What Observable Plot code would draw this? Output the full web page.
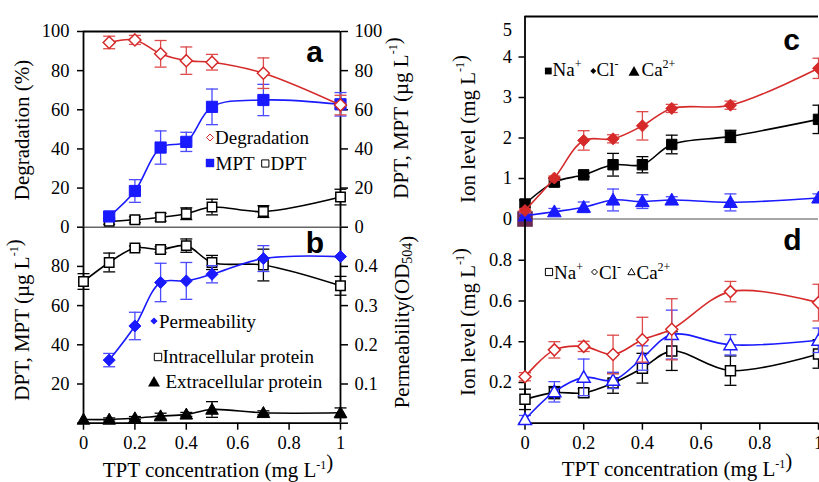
<!DOCTYPE html>
<html><head><meta charset="utf-8">
<script src="https://cdn.jsdelivr.net/npm/d3@7"></script>
<script src="https://cdn.jsdelivr.net/npm/@observablehq/plot@0.6"></script>
<style>
html,body{margin:0;padding:0;background:#fff;overflow:hidden;}
#fig{position:relative;width:819px;height:482px;overflow:hidden;background:#fff;}
#fig svg{position:absolute;left:0;top:0;}
</style></head>
<body><div id="fig"></div>
<script>
// ---------- data ----------
// Panel a
const concA = [0.1, 0.2, 0.3, 0.4, 0.5, 0.7, 1.0];
const degradation = [94.4, 95.7, 88.6, 85.1, 84.3, 78.7, 62.4];
const degradationErr = [3.2, 2.3, 6.8, 7.0, 4.0, 7.8, 5.0];
const mpt = [5.5, 18.5, 40.7, 43.6, 61.5, 65.0, 62.8];
const mptErr = [2.0, 5.8, 8.5, 4.9, 9.1, 8.0, 6.0];
const dpt = [3.0, 3.8, 5.1, 6.9, 10.3, 8.0, 15.4];
const dptErr = [1.5, 1.5, 2.0, 3.0, 4.0, 3.0, 4.0];
// Panel b
const concB = [0, 0.1, 0.2, 0.3, 0.4, 0.5, 0.7, 1.0];
const intracellular = [72.3, 82.0, 89.4, 88.6, 90.6, 82.0, 80.7, 70.1];
const intracellularErr = [4.0, 4.8, 1.0, 1.5, 3.4, 3.6, 8.1, 4.8];
const extracellular = [1.9, 1.9, 2.6, 3.6, 4.5, 7.0, 5.3, 5.3];
const extracellularErr = [0, 0.8, 0.8, 1.5, 1.0, 4.0, 1.0, 2.5];
const permConc = [0.1, 0.2, 0.3, 0.4, 0.5, 0.7, 1.0];
const permeability = [0.161, 0.248, 0.359, 0.363, 0.380, 0.420, 0.425];
const permeabilityErr = [0.017, 0.035, 0.049, 0.047, 0.022, 0.033, 0];
// Panels c and d
const concCD = [0, 0.1, 0.2, 0.3, 0.4, 0.5, 0.7, 1.0];
const naC = [0.37, 0.91, 1.09, 1.34, 1.34, 1.84, 2.04, 2.46];
const naCErr = [0.1, 0.1, 0.05, 0.28, 0.2, 0.23, 0.15, 0.35];
const clC = [0.21, 1.01, 1.94, 1.98, 2.30, 2.73, 2.81, 3.72];
const clCErr = [0.05, 0.05, 0.24, 0.1, 0.35, 0.1, 0.1, 0.25];
const caC = [0.08, 0.18, 0.29, 0.47, 0.43, 0.47, 0.41, 0.52];
const caCErr = [0.05, 0.08, 0.13, 0.27, 0.17, 0.08, 0.21, 0.1];
const originMarkerC = [{x: 0, y: 0}];
const naD = [0.117, 0.150, 0.149, 0.197, 0.270, 0.354, 0.258, 0.340];
const naDErr = [0.05, 0.03, 0.02, 0.05, 0.073, 0.095, 0.072, 0.07];
const clD = [0.228, 0.360, 0.377, 0.337, 0.410, 0.461, 0.646, 0.592];
const clDErr = [0.02, 0.04, 0.025, 0.095, 0.11, 0.15, 0.05, 0.09];
const caD = [0.018, 0.154, 0.225, 0.210, 0.320, 0.435, 0.385, 0.407];
const caDErr = [0.02, 0.05, 0.09, 0.04, 0.06, 0.12, 0.05, 0.06];
// ticks
const xTicks = [0, 0.2, 0.4, 0.6, 0.8, 1];
const aTicks = [0, 20, 40, 60, 80, 100];
const bLeftTicks = [0, 20, 40, 60, 80];
const bRightTicks = [0, 0.1, 0.2, 0.3, 0.4];
const cTicks = [0, 1, 2, 3, 4];
const dTicks = [0, 0.2, 0.4, 0.6, 0.8];

// ---------- styling ----------
const RED = "#d62a2a", RED_ERR = "#dd4b4b", BLUE = "#1a1aff", BLUE_ERR = "#4a4aff", BLACK = "#000";
const W = 819, H = 482;
const rad = s => Math.sqrt(s / Math.PI);
const sq = {draw(c, s) { const r = rad(s); c.rect(-r, -r, 2 * r, 2 * r); }};
const dia = {draw(c, s) { const r = rad(s); c.moveTo(0, -r); c.lineTo(r, 0); c.lineTo(0, r); c.lineTo(-r, 0); c.closePath(); }};
const tri = {draw(c, s) { const r = rad(s); c.moveTo(0, -r); c.lineTo(r, r * 0.75); c.lineTo(-r, r * 0.75); c.closePath(); }};
const cap = {draw(c, s) { const r = rad(s); c.moveTo(-r, 0); c.lineTo(r, 0); }};
const fmt = d => String(+(+d).toFixed(1));

function series(xs, ys, es, o) {
  const k = o.k || 1;
  const data = xs.map((x, i) => ({x, y: ys[i] * k, e: es[i] * k}));
  const ed = data.filter(d => d.e > 0);
  return [
    Plot.ruleX(ed, {x: "x", y1: d => d.y - d.e, y2: d => d.y + d.e, stroke: o.err, strokeWidth: 1.3}),
    Plot.dot(ed, {x: "x", y: d => d.y + d.e, symbol: cap, r: 6, stroke: o.err, strokeWidth: 1.3}),
    Plot.dot(ed, {x: "x", y: d => d.y - d.e, symbol: cap, r: 6, stroke: o.err, strokeWidth: 1.3}),
    Plot.line(data, {x: "x", y: "y", curve: "catmull-rom", stroke: o.color, strokeWidth: 1.6}),
    Plot.dot(data, {x: "x", y: "y", symbol: o.symbol, r: o.r, fill: o.open ? "white" : o.color, stroke: o.color, strokeWidth: o.open ? 1.5 : 1})
  ];
}
const style = {background: "transparent", fontFamily: "'Liberation Serif', 'Times New Roman', serif", fontSize: "18.5px", color: "#000", overflow: "visible"};
const AX = {tickSize: 6, tickPadding: 7, strokeWidth: 1.5, label: null};

const fig = document.getElementById("fig");

// Panel a
fig.appendChild(Plot.plot({
  width: W, height: H, style,
  marginLeft: 83, marginRight: W - 340, marginTop: 31, marginBottom: H - 226.7,
  x: {domain: [0, 1], axis: null}, y: {domain: [0, 100]},
  marks: [
    Plot.ruleY([0], {stroke: "#666", strokeWidth: 1.5}),
    Plot.ruleY([100], {stroke: BLACK, strokeWidth: 1.8}),
    Plot.ruleX([0, 1], {stroke: BLACK, strokeWidth: 1.8}),
    Plot.axisY({...AX, anchor: "left", ticks: aTicks, tickFormat: d => d, tickPadding: 8}),
    Plot.axisY({...AX, anchor: "right", ticks: aTicks, tickFormat: d => d, tickSize: 7}),
    ...series(concA, dpt, dptErr, {color: BLACK, err: BLACK, symbol: sq, r: 4.7, open: true}),
    ...series(concA, mpt, mptErr, {color: BLUE, err: BLUE_ERR, symbol: sq, r: 5.6}),
    ...series(concA, degradation, degradationErr, {color: RED, err: RED_ERR, symbol: dia, r: 6, open: true})
  ]
}));

// Panel b
fig.appendChild(Plot.plot({
  width: W, height: H, style,
  marginLeft: 83, marginRight: W - 340, marginTop: 226.7, marginBottom: H - 422.7,
  x: {domain: [0, 1]}, y: {domain: [0, 100]},
  marks: [
    Plot.ruleY([0], {stroke: BLACK, strokeWidth: 1.8}),
    Plot.ruleX([0, 1], {stroke: BLACK, strokeWidth: 1.8}),
    Plot.axisY({...AX, anchor: "left", ticks: bLeftTicks, tickFormat: d => d === 0 ? "" : d, tickPadding: 8}),
    Plot.axisY({...AX, anchor: "right", ticks: bRightTicks.map(v => v * 200), tickFormat: d => d === 0 ? "" : fmt(d / 200), tickSize: 7}),
    Plot.axisX({...AX, anchor: "bottom", ticks: xTicks, tickFormat: fmt, tickSize: 7, tickPadding: 6}),
    ...series(concB, extracellular, extracellularErr, {color: BLACK, err: BLACK, symbol: tri, r: 6.3}),
    ...series(concB, intracellular, intracellularErr, {color: BLACK, err: BLACK, symbol: sq, r: 4.7, open: true}),
    ...series(permConc, permeability, permeabilityErr, {color: BLUE, err: BLUE_ERR, symbol: dia, r: 6, k: 200})
  ]
}));

// Panel c
fig.appendChild(Plot.plot({
  width: W, height: H, style,
  marginLeft: 524.5, marginRight: 1, marginTop: 16, marginBottom: H - 218.5,
  x: {domain: [0, 1], axis: null}, y: {domain: [0, 5]},
  marks: [
    Plot.ruleY([0], {stroke: "#888", strokeWidth: 1.5}),
    Plot.ruleY([5], {stroke: BLACK, strokeWidth: 1.8}),
    Plot.ruleX([0], {stroke: BLACK, strokeWidth: 1.8}),
    Plot.axisY({...AX, anchor: "left", ticks: cTicks, tickFormat: d => d}),
    Plot.axisY({...AX, anchor: "left", ticks: [5], tickFormat: d => d, tickSize: 0, tickPadding: 13, dy: 14}),
    Plot.dot(originMarkerC, {x: "x", y: "y", symbol: sq, r: 7.8, fill: "#6b2a52"}),
    ...series(concCD, caC, caCErr, {color: BLUE, err: BLUE_ERR, symbol: tri, r: 6.8}),
    ...series(concCD, naC, naCErr, {color: BLACK, err: BLACK, symbol: sq, r: 5.2}),
    ...series(concCD, clC, clCErr, {color: RED, err: RED_ERR, symbol: dia, r: 6})
  ]
}));

// Panel d
fig.appendChild(Plot.plot({
  width: W, height: H, style,
  marginLeft: 524.5, marginRight: 1, marginTop: 219, marginBottom: H - 422.7,
  x: {domain: [0, 1]}, y: {domain: [0, 1]},
  marks: [
    Plot.ruleY([0], {stroke: BLACK, strokeWidth: 1.8}),
    Plot.ruleX([0], {stroke: BLACK, strokeWidth: 1.8}),
    Plot.axisY({...AX, anchor: "left", ticks: dTicks, tickFormat: d => d === 0 ? "" : fmt(d)}),
    Plot.axisX({...AX, anchor: "bottom", ticks: xTicks, tickFormat: fmt, tickSize: 7, tickPadding: 6}),
    ...series(concCD, naD, naDErr, {color: BLACK, err: BLACK, symbol: sq, r: 5, open: true}),
    ...series(concCD, caD, caDErr, {color: BLUE, err: BLUE_ERR, symbol: tri, r: 6.5, open: true}),
    ...series(concCD, clD, clDErr, {color: RED, err: RED_ERR, symbol: dia, r: 6, open: true})
  ]
}));

// ---------- annotation overlay: titles, legends, panel letters ----------
const SERIF = "'Liberation Serif','Times New Roman',serif";
const SANS = "'Liberation Sans',Arial,sans-serif";
const sup = (t) => `<tspan dy="-8" font-size="12">${t}</tspan><tspan dy="8"></tspan>`;
const sub = (t) => `<tspan dy="5" font-size="14">${t}</tspan><tspan dy="-5"></tspan>`;
const unitL = (u) => `(${u} L${sup("-1")})`;
function vtitle(x, y, html) {
  return `<text transform="translate(${x},${y}) rotate(-90)" text-anchor="middle" dominant-baseline="central" font-family="${SERIF}" font-size="21">${html}</text>`;
}
function htitle(x, y, html) {
  return `<text x="${x}" y="${y}" text-anchor="middle" font-family="${SERIF}" font-size="21">${html}</text>`;
}
function letter(x, y, t) {
  return `<text x="${x}" y="${y}" text-anchor="middle" font-family="${SANS}" font-weight="bold" font-size="30">${t}</text>`;
}
function txt(x, y, html, size = 19) {
  return `<text x="${x}" y="${y}" font-family="${SERIF}" font-size="${size}">${html}</text>`;
}
function sym(kind, cx, cy, r, fill, stroke, sw = 1.2) {
  let d;
  if (kind === "sq") d = `M${cx - r},${cy - r}h${2 * r}v${2 * r}h${-2 * r}Z`;
  else if (kind === "dia") d = `M${cx},${cy - r}L${cx + r},${cy}L${cx},${cy + r}L${cx - r},${cy}Z`;
  else d = `M${cx},${cy - r}L${cx + r},${cy + r * 0.75}L${cx - r},${cy + r * 0.75}Z`;
  return `<path d="${d}" fill="${fill}" stroke="${stroke}" stroke-width="${sw}"/>`;
}
const parts = [
  vtitle(22, 130, "Degradation (%)"),
  vtitle(401, 118, "DPT, MPT " + unitL("µg")),
  vtitle(22, 320, "DPT, MPT " + unitL("µg")),
  vtitle(402, 322, "Permeability(OD" + sub("504") + ")"),
  vtitle(468, 129, "Ion level " + unitL("mg")),
  vtitle(468, 322, "Ion level " + unitL("mg")),
  htitle(218, 476.5, "TPT concentration " + unitL("mg")),
  htitle(677, 476, "TPT concentration " + unitL("mg")),
  letter(314.5, 62, "a"), letter(315, 253, "b"), letter(791.5, 50, "c"), letter(792.5, 250, "d"),
  // legend a
  sym("dia", 210, 137.5, 3.5, "white", RED, 1),
  txt(215, 144, "Degradation"),
  sym("sq", 210, 163, 4.2, BLUE, BLUE, 0),
  txt(215.5, 169.5, "MPT"),
  sym("sq", 265.3, 163.5, 3.6, "white", BLACK, 1),
  txt(270.5, 169.5, "DPT"),
  // legend b
  sym("dia", 154, 321, 3.6, BLUE, BLUE, 0),
  txt(159, 327.5, "Permeability"),
  sym("sq", 158, 357, 3.7, "white", BLACK, 1),
  txt(162.5, 363, "Intracellular protein"),
  sym("tri", 154, 382, 6, BLACK, BLACK, 0),
  txt(165.5, 388, "Extracellular protein"),
  // legend c
  sym("sq", 548.3, 71, 3.4, BLACK, BLACK, 0),
  txt(552.5, 76, "Na" + sup("+")),
  sym("dia", 593.3, 71, 3, BLACK, BLACK, 0),
  txt(596.5, 76, "Cl" + sup("-")),
  sym("tri", 634, 71.5, 5.5, BLACK, BLACK, 0),
  txt(641.5, 76, "Ca" + sup("2+")),
  // legend d
  sym("sq", 549, 272, 3.6, "white", BLACK, 1),
  txt(554, 278.5, "Na" + sup("+")),
  sym("dia", 594.5, 272, 3, "white", BLACK, 1),
  txt(599, 278.5, "Cl" + sup("-")),
  sym("tri", 631.5, 272, 3.6, "white", BLACK, 1),
  txt(636.5, 278.5, "Ca" + sup("2+"))
];
const overlay = document.createElementNS("http://www.w3.org/2000/svg", "svg");
overlay.setAttribute("width", W); overlay.setAttribute("height", H);
overlay.setAttribute("viewBox", `0 0 ${W} ${H}`);
overlay.innerHTML = parts.join("");
fig.appendChild(overlay);
</script></body></html>
